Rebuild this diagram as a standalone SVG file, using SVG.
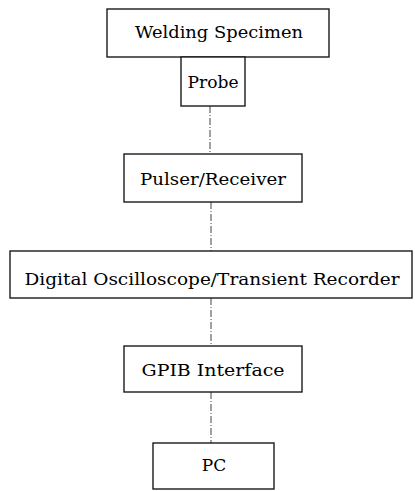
<svg xmlns="http://www.w3.org/2000/svg" width="415" height="491" viewBox="0 0 415 491">
<style>
.box{fill:#fff;stroke:#1a1a1a;stroke-width:1.4}
.t{font-family:"DejaVu Serif","Liberation Serif",serif;font-size:17px;fill:#000;text-anchor:middle}
.c{stroke:#444;stroke-width:1;stroke-dasharray:7 2 1 2;fill:none}
</style>
<rect width="415" height="491" fill="#fff"/>
<g id="connectors">
<line class="c" x1="210" y1="106" x2="210" y2="154"/>
<line class="c" x1="211" y1="202" x2="211" y2="251"/>
<line class="c" x1="211" y1="298" x2="211" y2="346"/>
<line class="c" x1="211" y1="392" x2="211" y2="443"/>
</g>
<g id="welding">
<rect class="box" x="107" y="9" width="222" height="48"/>
<text class="t" x="219" y="38" textLength="168" lengthAdjust="spacingAndGlyphs">Welding Specimen</text>
</g>
<g id="probe">
<rect class="box" x="181" y="57" width="64" height="49"/>
<text class="t" x="213" y="88" textLength="51" lengthAdjust="spacingAndGlyphs">Probe</text>
</g>
<g id="pulser">
<rect class="box" x="124" y="154" width="178" height="48"/>
<text class="t" x="213" y="185" textLength="146" lengthAdjust="spacingAndGlyphs">Pulser/Receiver</text>
</g>
<g id="scope">
<rect class="box" x="10" y="251" width="402" height="47"/>
<text class="t" x="212" y="285" textLength="375" lengthAdjust="spacingAndGlyphs">Digital Oscilloscope/Transient Recorder</text>
</g>
<g id="gpib">
<rect class="box" x="124" y="346" width="178" height="46"/>
<text class="t" x="213" y="376" textLength="143" lengthAdjust="spacingAndGlyphs">GPIB Interface</text>
</g>
<g id="pc">
<rect class="box" x="153" y="443" width="121" height="46"/>
<text class="t" x="214" y="471">PC</text>
</g>
</svg>
